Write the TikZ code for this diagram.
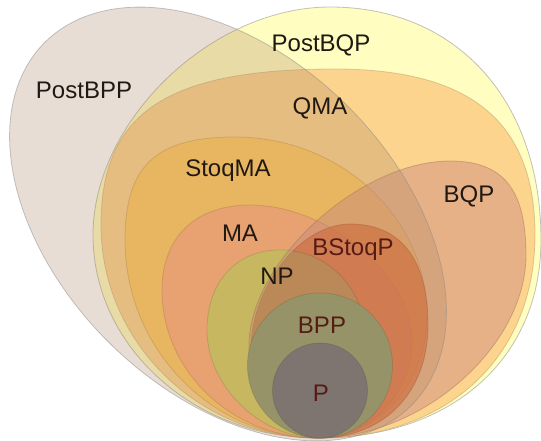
\documentclass[tikz,border=0pt]{standalone}
\usepackage{fontspec}
\setmainfont{Liberation Sans}
\begin{document}
% fills
\definecolor{cPostBQP}{RGB}{255,253,192}
\definecolor{cQMA}{RGB}{253,212,142}
\definecolor{cStoqMA}{RGB}{255,202,96}
\definecolor{cMA}{RGB}{255,174,118}
\definecolor{cNP}{RGB}{211,204,96}
\definecolor{cBQP}{RGB}{211,144,130}
\definecolor{cBStoqP}{RGB}{220,98,48}
\definecolor{cNPBS}{RGB}{192,141,85}
\definecolor{cBPP}{RGB}{145,155,107}
\definecolor{cP}{RGB}{110,113,118}
\definecolor{cPostBPP}{RGB}{170,129,96}
\definecolor{ink}{RGB}{32,24,18}
\definecolor{inkred}{RGB}{86,28,20}
% egg-shaped closed curve through its left, top, right and bottom extreme points
\newcommand\eggpts[8]{\def\xL{#1}\def\yL{#2}\def\xT{#3}\def\yT{#4}\def\xR{#5}\def\yR{#6}\def\xB{#7}\def\yB{#8}}
\newcommand\eggk[4]{\def\kLT{#1}\def\kTR{#2}\def\kRB{#3}\def\kBL{#4}}
\newcommand\egg{(\xL,\yL) .. controls (\xL,{\yL+\kLT*(\yT-\yL)}) and ({\xT-\kLT*(\xT-\xL)},\yT) .. (\xT,\yT)
 .. controls ({\xT+\kTR*(\xR-\xT)},\yT) and (\xR,{\yR+\kTR*(\yT-\yR)}) .. (\xR,\yR)
 .. controls (\xR,{\yR+\kRB*(\yB-\yR)}) and ({\xB+\kRB*(\xR-\xB)},\yB) .. (\xB,\yB)
 .. controls ({\xB-\kBL*(\xB-\xL)},\yB) and (\xL,{\yL+\kBL*(\yB-\yL)}) .. cycle}
\tikzset{
  region/.style={fill=#1, draw=#1!55!black, draw opacity=0.3, line width=0.8pt},
  tag/.style={font=\fontsize{24}{28}\selectfont, text=#1, inner sep=0pt, anchor=base}
}
\begin{tikzpicture}[x=1pt,y=-1pt]
\useasboundingbox (0,0) rectangle (541,441);
\begin{scope}
\clip (0,0) rectangle (541,441);
% PostBQP
\eggpts{93}{235}{330}{7}{541}{240}{318}{438}\eggk{0.5}{0.6}{0.6}{0.55}
\path[region=cPostBQP, draw=black!40, draw opacity=0.6] \egg;
% QMA
\eggpts{101}{225}{335}{69}{535}{235}{318}{438}\eggk{0.72}{0.68}{0.6}{0.55}
\path[region=cQMA] \egg;
% StoqMA
\eggpts{125}{240}{235}{137}{427}{315}{318}{438}\eggk{0.72}{0.55}{0.55}{0.55}
\path[region=cStoqMA] \egg;
% MA
\eggpts{162}{290}{250}{205}{412}{340}{318}{438}\eggk{0.62}{0.48}{0.55}{0.55}
\path[region=cMA] \egg;
% NP
\eggpts{207}{330}{280}{250}{367}{345}{318}{438}\eggk{0.6}{0.57}{0.55}{0.52}
\path[region=cNP] \egg;
% BQP
\eggpts{249}{345}{450}{161}{526}{255}{318}{438}\eggk{0.45}{0.7}{0.5}{0.55}
\path[region=cBQP, fill opacity=0.5] \egg;
% BStoqP
\eggpts{251}{350}{350}{224}{428}{325}{318}{438}\eggk{0.5}{0.65}{0.6}{0.55}
\path[region=cBStoqP, fill opacity=0.6] \egg;
% NP inside BStoqP
\begin{scope}
\clip \egg;
\eggpts{207}{330}{280}{250}{367}{345}{318}{438}\eggk{0.6}{0.57}{0.55}{0.52}
\path[region=cNPBS] \egg;
\end{scope}
% BPP
\eggpts{247.5}{365.5}{320}{293}{392.5}{365.5}{320}{438}\eggk{0.5523}{0.5523}{0.5523}{0.5523}
\path[region=cBPP] \egg;
% P
\eggpts{272.5}{390.5}{320}{343}{367.5}{390.5}{320}{438}\eggk{0.5523}{0.5523}{0.5523}{0.5523}
\path[region=cP] \egg;
% PostBPP: tilted ellipse laid over everything
\path[fill=cPostBPP, fill opacity=0.27, draw=black!45, draw opacity=0.5, line width=0.8pt]
  plot[domain=0:360, samples=145, variable=\t]
  ({228+258*cos(\t)*cos(44.5)-168*sin(\t)*sin(44.5)}, {224+258*cos(\t)*sin(44.5)+168*sin(\t)*cos(44.5)}) -- cycle;
\end{scope}
% labels
\node[tag=ink] (lPostBPP) at (84,99) {PostBPP};
\node[tag=ink] (lPostBQP) at (321,52) {PostBQP};
\node[tag=ink] (lQMA) at (320,115) {QMA};
\node[tag=ink] (lStoqMA) at (228,177) {StoqMA};
\node[tag=ink] (lBQP) at (469,202) {BQP};
\node[tag=ink] (lMA) at (240,241) {MA};
\node[tag=inkred] (lBStoqP) at (353,255) {BStoqP};
\node[tag=ink] (lNP) at (277,284) {NP};
\node[tag=inkred] (lBPP) at (322,333) {BPP};
\node[tag=inkred] (lP) at (321,401) {P};
\end{tikzpicture}
\end{document}
